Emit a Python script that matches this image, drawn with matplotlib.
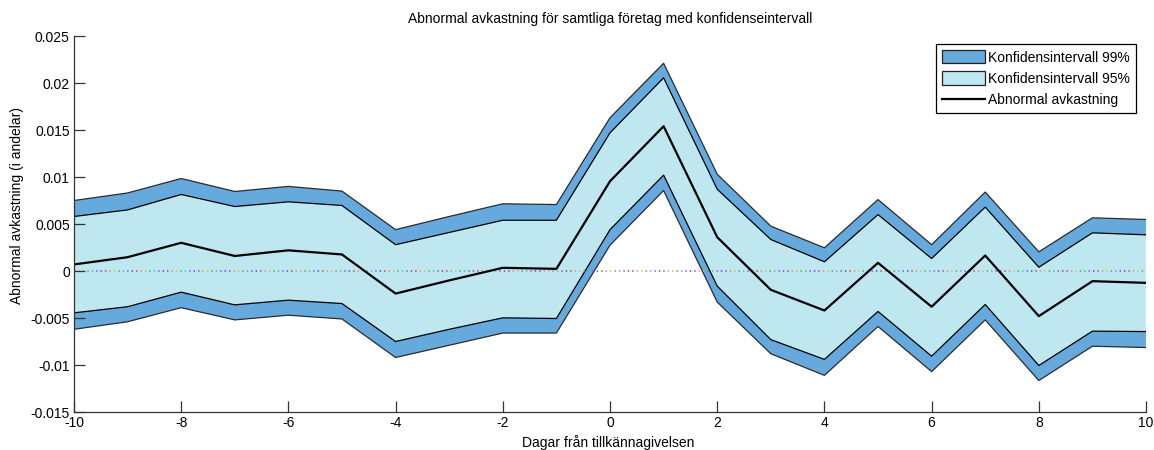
import matplotlib
matplotlib.use("Agg")
import matplotlib.pyplot as plt
from matplotlib.patches import Patch
from matplotlib.lines import Line2D

plt.rcParams['font.family'] = ['Liberation Sans', 'DejaVu Sans']

# Event days relative to the announcement
days = [-10, -9, -8, -7, -6, -5, -4, -3, -2, -1, 0, 1, 2, 3, 4, 5, 6, 7, 8, 9, 10]

# Mean abnormal return
abnormal = [0.0007, 0.00147, 0.0030, 0.0016, 0.0022, 0.00176, -0.0024, -0.0010,
            0.00034, 0.00023, 0.00955, 0.0154, 0.0036, -0.0020, -0.0042, 0.00087,
            -0.0038, 0.00165, -0.0048, -0.00108, -0.00126]

# 95 % confidence bounds
ci95_upper = [0.0058, 0.0065, 0.00814, 0.00686, 0.00736, 0.00697, 0.0028, 0.0041,
              0.0054, 0.0054, 0.0147, 0.02055, 0.0087, 0.00335, 0.00098, 0.0060,
              0.00133, 0.0068, 0.0004, 0.00406, 0.00385]
ci95_lower = [-0.00445, -0.0038, -0.00225, -0.0036, -0.0031, -0.00346, -0.0075, -0.0062,
              -0.00498, -0.00505, 0.0044, 0.0102, -0.0016, -0.0073, -0.0094, -0.0043,
              -0.00906, -0.00356, -0.01005, -0.0064, -0.00644]

# 99 % confidence bounds
ci99_upper = [0.0075, 0.0083, 0.00984, 0.00846, 0.0090, 0.0085, 0.0044, 0.0058,
              0.00715, 0.00707, 0.0163, 0.0221, 0.0103, 0.00477, 0.00247, 0.0076,
              0.0028, 0.0084, 0.00204, 0.00566, 0.00548]
ci99_lower = [-0.0062, -0.0054, -0.0039, -0.0052, -0.0047, -0.0051, -0.0092, -0.0079,
              -0.0066, -0.0066, 0.00275, 0.00856, -0.0033, -0.0088, -0.0111, -0.0059,
              -0.0107, -0.0052, -0.01165, -0.0080, -0.00814]

x_ticks = [-10, -8, -6, -4, -2, 0, 2, 4, 6, 8, 10]
y_ticks = [-0.015, -0.01, -0.005, 0, 0.005, 0.01, 0.015, 0.02, 0.025]
y_tick_labels = ['-0.015', '-0.01', '-0.005', '0', '0.005', '0.01', '0.015', '0.02', '0.025']

c99 = '#66a9dc'
c95 = '#bfe7f0'

fig = plt.figure(figsize=(11.54, 4.5), dpi=100)
ax = fig.add_axes([0.0641, 0.0844, 0.929, 0.8356])

ax.fill_between(days, ci99_lower, ci99_upper, facecolor=c99, edgecolor='none', zorder=1)
ax.plot(days, ci99_upper, color='#2b2b2b', lw=0.9, zorder=2)
ax.plot(days, ci99_lower, color='#2b2b2b', lw=0.9, zorder=2)
ax.fill_between(days, ci95_lower, ci95_upper, facecolor=c95, edgecolor='none', zorder=3)
ax.plot(days, ci95_upper, color='black', lw=0.9, zorder=4)
ax.plot(days, ci95_lower, color='black', lw=0.9, zorder=4)

# Multicoloured dotted zero reference
dot_colors = ['#e03030', '#3050e0', '#a040c0', '#30c0d0', '#40b040', '#d0c030', '#e080a0']
step = 2.9
n = len(dot_colors)
for i, col in enumerate(dot_colors):
    ln, = ax.plot([days[0], days[-1]], [0, 0], color=col, lw=1.1, zorder=5)
    ln.set_linestyle((i * step, (0.9, n * step - 0.9)))

ax.plot(days, abnormal, color='black', lw=1.6, zorder=6)

ax.set_xlim(-10, 10)
ax.set_ylim(-0.015, 0.025)
ax.set_xticks(x_ticks)
ax.set_xticklabels([str(t) for t in x_ticks])
ax.set_yticks(y_ticks)
ax.set_yticklabels(y_tick_labels)
ax.tick_params(direction='in', length=8, width=0.9, colors='#333333',
               labelcolor='black', labelsize=10)
ax.tick_params(axis='x', pad=3)
ax.tick_params(axis='y', pad=3)
ax.xaxis.set_zorder(10)
ax.yaxis.set_zorder(10)
for s in ['top', 'right']:
    ax.spines[s].set_visible(False)
for s in ['left', 'bottom']:
    ax.spines[s].set_color('#333333')
    ax.spines[s].set_linewidth(0.9)
    ax.spines[s].set_zorder(10)

ax.set_title('Abnormal avkastning för samtliga företag med konfidenseintervall',
             fontsize=10, pad=9)
ax.set_xlabel('Dagar från tillkännagivelsen', fontsize=10)
ax.xaxis.set_label_coords(0.498, -0.062)
ax.set_ylabel('Abnormal avkastning (i andelar)', fontsize=10)
ax.yaxis.set_label_coords(-0.047, 0.55)

handles = [Patch(facecolor=c99, edgecolor='#222222', lw=0.9),
           Patch(facecolor=c95, edgecolor='#222222', lw=0.9),
           Line2D([0], [0], color='black', lw=1.6)]
labels = ['Konfidensintervall 99%', 'Konfidensintervall 95%', 'Abnormal avkastning']
leg = ax.legend(handles, labels, loc='upper right', bbox_to_anchor=(0.9907, 0.979),
                fontsize=10, fancybox=False, framealpha=1, edgecolor='black',
                handlelength=3.1, handleheight=1.1, handletextpad=0.2,
                labelspacing=0.5, borderpad=0.45, borderaxespad=0)
leg.get_frame().set_linewidth(0.9)
leg.set_zorder(20)

fig.savefig('out.png', dpi=100)
